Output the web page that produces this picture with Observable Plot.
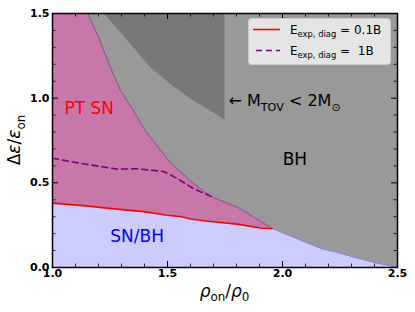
<!DOCTYPE html>
<html><head><meta charset="utf-8">
<script src="https://cdn.jsdelivr.net/npm/d3@7"></script>
<script src="https://cdn.jsdelivr.net/npm/@observablehq/plot@0.6"></script>
<style>body{margin:0;background:#fff;} svg{font-family:"DejaVu Sans";}</style>
</head><body><div id="chart"></div>
<script>
// Boundary between PT SN / SN/BH and BH region
const boundaryRho = [1.0, 1.153, 1.201, 1.252, 1.296, 1.35, 1.404, 1.506, 1.60, 1.665, 1.70, 1.81, 1.955, 2.078, 2.173, 2.223, 2.30, 2.368, 2.43, 2.5];
const boundaryEps = [1.5, 1.5, 1.358, 1.181, 1.044, 0.93, 0.807, 0.63, 0.51, 0.443, 0.413, 0.352, 0.23, 0.162, 0.109, 0.094, 0.065, 0.040, 0.020, 0.0];
// M_TOV < 2 Msun region
const darkRho = [1.223, 1.303, 1.426, 1.52, 1.614, 1.687, 1.75];
const darkEps = [1.5, 1.378, 1.181, 1.075, 0.984, 0.925, 0.87];
// E_exp,diag = 0.1B
const redRho = [1.0, 1.145, 1.281, 1.397, 1.499, 1.557, 1.60, 1.687, 1.803, 1.904, 1.955];
const redEps = [0.38, 0.364, 0.345, 0.33, 0.309, 0.301, 0.286, 0.272, 0.256, 0.233, 0.23];
// E_exp,diag = 1B
const dashRho = [1.0, 1.14, 1.281, 1.368, 1.484, 1.542, 1.614, 1.70];
const dashEps = [0.645, 0.611, 0.581, 0.583, 0.567, 0.525, 0.465, 0.413];
// ticks
const xMajor = [1.0, 1.5, 2.0, 2.5];
const xMinor = [1.1, 1.2, 1.3, 1.4, 1.6, 1.7, 1.8, 1.9, 2.1, 2.2, 2.3, 2.4];
const yMajor = [0.0, 0.5, 1.0, 1.5];
const yMinor = [0.1, 0.2, 0.3, 0.4, 0.6, 0.7, 0.8, 0.9, 1.1, 1.2, 1.3, 1.4];
// region labels
const regionLabels = [
  {x: 1.16, y: 0.94, text: "PT SN", color: "#ff0000"},
  {x: 1.368, y: 0.18, text: "SN/BH", color: "#0000ff"},
  {x: 2.054, y: 0.64, text: "BH", color: "#000000"}
];

const toPts = (xs, ys) => xs.map((x, i) => ({x, y: ys[i]}));
const boundary = toPts(boundaryRho, boundaryEps);
const dark = toPts(darkRho, darkEps);
const red = toPts(redRho, redEps);
const dash = toPts(dashRho, dashEps);
const blueTop = red.concat(boundary.filter(d => d.x > 1.955));
const pinkEdge = boundary.filter(d => d.x >= 1.153 && d.x <= 1.955);
const blueEdge = boundary.filter(d => d.x >= 1.955);

const W = 415, H = 312, mL = 52, mR = 18, mT = 13, mB = 45;
const iH = H - mT - mB, iW = W - mL - mR;
const maj = 6, mnr = 3.5;

const plot = Plot.plot({
  width: W, height: H, marginLeft: mL, marginRight: mR, marginTop: mT, marginBottom: mB,
  style: {fontFamily: "DejaVu Sans", background: "white", overflow: "visible"},
  x: {domain: [1.0, 2.5]},
  y: {domain: [0, 1.5]},
  marks: [
    Plot.frame({fill: "#999999", stroke: null}),
    Plot.areaY(dark, {x: "x", y1: "y", y2: 1.5, fill: "#787878"}),
    Plot.areaY(boundary, {x: "x", y1: 0, y2: "y", fill: "#c878a8"}),
    Plot.line(pinkEdge, {x: "x", y: "y", stroke: "#8a4585", strokeWidth: 0.9}),
    Plot.areaY(blueTop, {x: "x", y1: 0, y2: "y", fill: "#ccccff"}),
    Plot.line(blueEdge, {x: "x", y: "y", stroke: "#7878c8", strokeWidth: 0.9}),
    Plot.line(red, {x: "x", y: "y", stroke: "#ff0000", strokeWidth: 1.6}),
    Plot.line(dash, {x: "x", y: "y", stroke: "#800080", strokeWidth: 1.6, strokeDasharray: "6,4"}),
    // ticks (inward, all four sides)
    Plot.tickX(xMajor, {x: d => d, insetTop: iH - maj, stroke: "black", strokeWidth: 1}),
    Plot.tickX(xMajor, {x: d => d, insetBottom: iH - maj, stroke: "black", strokeWidth: 1}),
    Plot.tickX(xMinor, {x: d => d, insetTop: iH - mnr, stroke: "black", strokeWidth: 0.8}),
    Plot.tickX(xMinor, {x: d => d, insetBottom: iH - mnr, stroke: "black", strokeWidth: 0.8}),
    Plot.tickY(yMajor, {y: d => d, insetRight: iW - maj, stroke: "black", strokeWidth: 1}),
    Plot.tickY(yMajor, {y: d => d, insetLeft: iW - maj, stroke: "black", strokeWidth: 1}),
    Plot.tickY(yMinor, {y: d => d, insetRight: iW - mnr, stroke: "black", strokeWidth: 0.8}),
    Plot.tickY(yMinor, {y: d => d, insetLeft: iW - mnr, stroke: "black", strokeWidth: 0.8}),
    Plot.axisX({ticks: xMajor, tickSize: 0, tickPadding: 2, tickFormat: d3.format(".1f"), fontWeight: "bold", fontSize: 11, label: null, fill: "black"}),
    Plot.axisY({ticks: yMajor, tickSize: 0, tickPadding: 3, tickFormat: d3.format(".1f"), fontWeight: "bold", fontSize: 11, label: null, fill: "black"}),
    Plot.frame({stroke: "black", strokeWidth: 1.5}),
    Plot.text(regionLabels, {x: "x", y: "y", text: "text", fill: "color", fontSize: 17, fontFamily: "DejaVu Sans"})
  ]
});

const sx = plot.scale("x"), sy = plot.scale("y");
const svg = d3.select(plot);

function rich(sel, parts, size) {
  parts.forEach(p => {
    const t = sel.append("tspan").text(p.t);
    if (p.sub) { t.attr("font-size", size * 0.7).attr("dy", size * 0.28); }
    else if (p.after) { t.attr("dy", -size * 0.28); }
    if (p.italic) t.attr("font-style", "italic");
  });
}

// M_TOV annotation
const mt = svg.append("text").attr("x", sx.apply(1.767)).attr("y", sy.apply(0.985) + 6)
  .attr("text-anchor", "start").attr("font-size", 16).attr("fill", "black").attr("font-family", "DejaVu Sans");
rich(mt, [{t: "\u2190 M"}, {t: "TOV", sub: true}, {t: " < 2M", after: true}, {t: "\u2299", sub: true}], 16);

// axis labels
const xl = svg.append("text").attr("x", (mL + W - mR) / 2).attr("y", 296.5)
  .attr("text-anchor", "middle").attr("font-size", 17).attr("fill", "black");
rich(xl, [{t: "\u03c1", italic: true}, {t: "on", sub: true}, {t: "/", after: true}, {t: "\u03c1", italic: true}, {t: "0", sub: true}], 17);

const yl = svg.append("text").attr("transform", `translate(20,${(mT + H - mB) / 2}) rotate(-90)`)
  .attr("text-anchor", "middle").attr("font-size", 17).attr("fill", "black");
rich(yl, [{t: "\u0394"}, {t: "\u03b5", italic: true}, {t: "/"}, {t: "\u03b5", italic: true}, {t: "on", sub: true}], 17);

// legend
const lg = svg.append("g");
lg.append("rect").attr("x", 248.5).attr("y", 18.5).attr("width", 142).attr("height", 46)
  .attr("rx", 3).attr("fill", "#ececec").attr("fill-opacity", 0.92).attr("stroke", "#cccccc");
lg.append("line").attr("x1", 253).attr("x2", 280).attr("y1", 29.5).attr("y2", 29.5)
  .attr("stroke", "#ff0000").attr("stroke-width", 1.6);
lg.append("line").attr("x1", 253).attr("x2", 280).attr("y1", 50.5).attr("y2", 50.5)
  .attr("stroke", "#800080").attr("stroke-width", 1.6).attr("stroke-dasharray", "6,4").attr("stroke-dashoffset", -3);
const t1 = lg.append("text").attr("x", 290).attr("y", 33.5).attr("text-anchor", "start").attr("font-size", 12).attr("fill", "black");
rich(t1, [{t: "E"}, {t: "exp, diag", sub: true}, {t: " = 0.1B", after: true}], 12);
const t2 = lg.append("text").attr("x", 290).attr("y", 55).attr("text-anchor", "start").attr("font-size", 12).attr("fill", "black");
rich(t2, [{t: "E"}, {t: "exp, diag", sub: true}, {t: " =  1B", after: true}], 12);
t2.style("white-space", "pre");
t1.style("white-space", "pre");

document.getElementById("chart").appendChild(plot);
</script>
</body></html>
